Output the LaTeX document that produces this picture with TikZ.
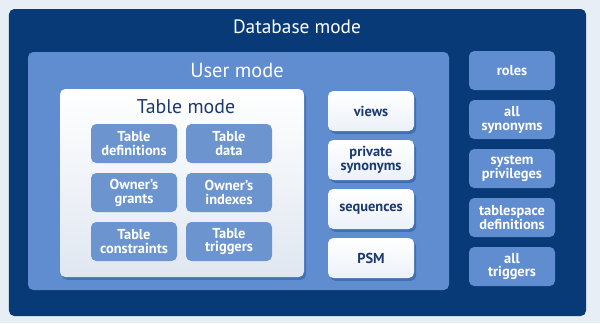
\documentclass[tikz,border=0pt]{standalone}
\usepackage{fontspec}
\setmainfont{PT Sans}
\usepackage{tikz}
\usetikzlibrary{positioning, shadows}
\definecolor{pale}{HTML}{E8EEF6}
\definecolor{navy}{HTML}{083A78}
\definecolor{usr}{HTML}{5F8DCF}
\definecolor{tile}{HTML}{6C95D0}
\definecolor{ink}{HTML}{1C3A70}
\definecolor{fog}{HTML}{E0E7F1}

\begin{document}
\begin{tikzpicture}[
  mode/.style={rounded corners=3pt, anchor=center},
  tilebox/.style={fill=tile, rounded corners=3pt, minimum width=1.72cm,
                  minimum height=0.78cm, align=center, text=white,
                  font=\fontsize{8.2}{7.9}\selectfont\bfseries},
  objbox/.style={top color=white, bottom color=white!88!usr, rounded corners=3pt,
                 minimum width=1.72cm, minimum height=0.8cm, align=center, text=ink,
                 font=\fontsize{8.2}{7.9}\selectfont\bfseries,
                 drop shadow={shadow xshift=1.2pt, shadow yshift=-1.6pt, fill=navy, opacity=0.35}},
  sysbox/.style={fill=usr, rounded corners=3pt, minimum width=1.72cm,
                 minimum height=0.78cm, align=center, text=white,
                 font=\fontsize{8.2}{7.9}\selectfont\bfseries}
]
  \fill[pale] (0,0) rectangle (12,-6.46);
  \useasboundingbox (0,0) rectangle (12,-6.46);

  % Outer levels
  \node[mode, fill=navy, minimum width=11.54cm, minimum height=6.14cm] (db) at (5.95,-3.25) {};
  \node[text=white, font=\fontsize{11}{12}\selectfont] (dbtitle) at (5.94,-0.54) {Database mode};

  \node[mode, fill=usr, minimum width=8.42cm, minimum height=4.76cm] (user) at (4.77,-3.42) {};
  \node[text=white, font=\fontsize{11.6}{12}\selectfont] (usertitle) at (4.74,-1.40) {User mode};

  \node[mode, top color=white, bottom color=fog, minimum width=4.88cm, minimum height=3.76cm,
        drop shadow={shadow xshift=1.2pt, shadow yshift=-1.6pt, fill=navy, opacity=0.3}] (tbl) at (3.64,-3.66) {};
  \node[text=ink, font=\fontsize{11.3}{12}\selectfont] (tbltitle) at (3.72,-2.14) {Table mode};

  % Table mode objects
  \node[tilebox] (tdef) at (2.68,-2.87) {Table\\definitions};
  \node[tilebox] (tdata) at (4.58,-2.87) {Table\\data};
  \node[tilebox] (grants) at (2.68,-3.85) {Owner's\\grants};
  \node[tilebox] (indexes) at (4.58,-3.85) {Owner's\\indexes};
  \node[tilebox] (cons) at (2.68,-4.83) {Table\\constraints};
  \node[tilebox] (trig) at (4.58,-4.83) {Table\\triggers};

  % User mode objects
  \node[objbox] (views) at (7.42,-2.22) {views};
  \node[objbox] (psyn) at (7.42,-3.20) {private\\synonyms};
  \node[objbox] (seq) at (7.42,-4.18) {sequences};
  \node[objbox] (psm) at (7.42,-5.16) {PSM};

  % Database mode objects
  \node[sysbox] (roles) at (10.24,-1.41) {roles};
  \node[sysbox] (asyn) at (10.24,-2.39) {all\\synonyms};
  \node[sysbox] (priv) at (10.24,-3.37) {system\\privileges};
  \node[sysbox] (tsdef) at (10.24,-4.35) {tablespace\\definitions};
  \node[sysbox] (atrig) at (10.24,-5.33) {all\\triggers};

\end{tikzpicture}
\end{document}
